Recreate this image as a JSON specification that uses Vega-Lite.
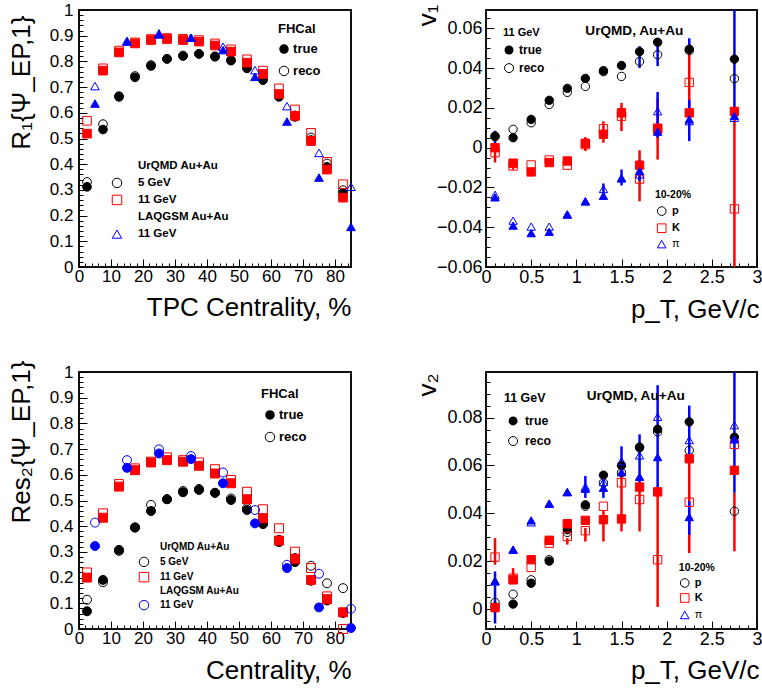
{
"$schema": "https://vega.github.io/schema/vega-lite/v6.json",
"autosize": {"type": "pad"},
"padding": {"left": 7, "top": 0, "right": 2, "bottom": 5},
"columns": 2,
"spacing": {"row": 105, "column": 135},
"bounds": "flush",
"resolve": {"scale": {"color": "independent", "shape": "independent", "fill": "independent", "fillOpacity": "independent", "stroke": "independent"}},
"config": {
  "font": "Liberation Sans",
  "view": {"stroke": "#111111", "strokeWidth": 2},
  "axis": {"grid": false, "domain": false, "labelFont": "Liberation Sans", "labelColor": "black", "tickColor": "black", "tickWidth": 1, "titleFont": "Liberation Sans", "titleFontSize": 26, "titleFontWeight": "normal", "titleColor": "black", "labelOverlap": false, "labelFlush": false, "labelBound": false},
  "text": {"font": "Liberation Sans", "fontWeight": "bold", "color": "black", "align": "left", "baseline": "middle"}
},
"datasets": {
"tl": [
{"c":2.5,"R":0.312,"m":"5 GeV","k":"true"},{"c":7.5,"R":0.535,"m":"5 GeV","k":"true"},{"c":12.5,"R":0.662,"m":"5 GeV","k":"true"},{"c":17.5,"R":0.738,"m":"5 GeV","k":"true"},{"c":22.5,"R":0.782,"m":"5 GeV","k":"true"},{"c":27.5,"R":0.81,"m":"5 GeV","k":"true"},{"c":32.5,"R":0.821,"m":"5 GeV","k":"true"},{"c":37.5,"R":0.829,"m":"5 GeV","k":"true"},{"c":42.5,"R":0.818,"m":"5 GeV","k":"true"},{"c":47.5,"R":0.803,"m":"5 GeV","k":"true"},{"c":52.5,"R":0.773,"m":"5 GeV","k":"true"},{"c":57.5,"R":0.727,"m":"5 GeV","k":"true"},{"c":62.5,"R":0.662,"m":"5 GeV","k":"true"},{"c":67.5,"R":0.584,"m":"5 GeV","k":"true"},{"c":72.5,"R":0.494,"m":"5 GeV","k":"true"},{"c":77.5,"R":0.39,"m":"5 GeV","k":"true"},{"c":82.5,"R":0.288,"m":"5 GeV","k":"true"},
{"c":2.5,"R":0.331,"m":"5 GeV","k":"reco"},{"c":7.5,"R":0.556,"m":"5 GeV","k":"reco"},{"c":12.5,"R":0.665,"m":"5 GeV","k":"reco"},{"c":17.5,"R":0.743,"m":"5 GeV","k":"reco"},{"c":22.5,"R":0.786,"m":"5 GeV","k":"reco"},{"c":27.5,"R":0.81,"m":"5 GeV","k":"reco"},{"c":32.5,"R":0.823,"m":"5 GeV","k":"reco"},{"c":37.5,"R":0.83,"m":"5 GeV","k":"reco"},{"c":42.5,"R":0.82,"m":"5 GeV","k":"reco"},{"c":47.5,"R":0.805,"m":"5 GeV","k":"reco"},{"c":52.5,"R":0.776,"m":"5 GeV","k":"reco"},{"c":57.5,"R":0.731,"m":"5 GeV","k":"reco"},{"c":62.5,"R":0.669,"m":"5 GeV","k":"reco"},{"c":67.5,"R":0.59,"m":"5 GeV","k":"reco"},{"c":72.5,"R":0.504,"m":"5 GeV","k":"reco"},{"c":77.5,"R":0.403,"m":"5 GeV","k":"reco"},{"c":82.5,"R":0.299,"m":"5 GeV","k":"reco"},
{"c":2.5,"R":0.519,"m":"11 GeV","k":"true"},{"c":7.5,"R":0.764,"m":"11 GeV","k":"true"},{"c":12.5,"R":0.835,"m":"11 GeV","k":"true"},{"c":17.5,"R":0.87,"m":"11 GeV","k":"true"},{"c":22.5,"R":0.883,"m":"11 GeV","k":"true"},{"c":27.5,"R":0.887,"m":"11 GeV","k":"true"},{"c":32.5,"R":0.883,"m":"11 GeV","k":"true"},{"c":37.5,"R":0.877,"m":"11 GeV","k":"true"},{"c":42.5,"R":0.862,"m":"11 GeV","k":"true"},{"c":47.5,"R":0.838,"m":"11 GeV","k":"true"},{"c":52.5,"R":0.795,"m":"11 GeV","k":"true"},{"c":57.5,"R":0.751,"m":"11 GeV","k":"true"},{"c":62.5,"R":0.673,"m":"11 GeV","k":"true"},{"c":67.5,"R":0.588,"m":"11 GeV","k":"true"},{"c":72.5,"R":0.49,"m":"11 GeV","k":"true"},{"c":77.5,"R":0.379,"m":"11 GeV","k":"true"},{"c":82.5,"R":0.27,"m":"11 GeV","k":"true"},
{"c":2.5,"R":0.569,"m":"11 GeV","k":"reco"},{"c":7.5,"R":0.773,"m":"11 GeV","k":"reco"},{"c":12.5,"R":0.842,"m":"11 GeV","k":"reco"},{"c":17.5,"R":0.874,"m":"11 GeV","k":"reco"},{"c":22.5,"R":0.887,"m":"11 GeV","k":"reco"},{"c":27.5,"R":0.891,"m":"11 GeV","k":"reco"},{"c":32.5,"R":0.888,"m":"11 GeV","k":"reco"},{"c":37.5,"R":0.883,"m":"11 GeV","k":"reco"},{"c":42.5,"R":0.87,"m":"11 GeV","k":"reco"},{"c":47.5,"R":0.847,"m":"11 GeV","k":"reco"},{"c":52.5,"R":0.808,"m":"11 GeV","k":"reco"},{"c":57.5,"R":0.764,"m":"11 GeV","k":"reco"},{"c":62.5,"R":0.695,"m":"11 GeV","k":"reco"},{"c":67.5,"R":0.613,"m":"11 GeV","k":"reco"},{"c":72.5,"R":0.522,"m":"11 GeV","k":"reco"},{"c":77.5,"R":0.409,"m":"11 GeV","k":"reco"},{"c":82.5,"R":0.322,"m":"11 GeV","k":"reco"},
{"c":5,"R":0.636,"m":"LAQGSM 11 GeV","k":"true"},{"c":15,"R":0.877,"m":"LAQGSM 11 GeV","k":"true"},{"c":25,"R":0.905,"m":"LAQGSM 11 GeV","k":"true"},{"c":35,"R":0.892,"m":"LAQGSM 11 GeV","k":"true"},{"c":45,"R":0.844,"m":"LAQGSM 11 GeV","k":"true"},{"c":55,"R":0.74,"m":"LAQGSM 11 GeV","k":"true"},{"c":65,"R":0.566,"m":"LAQGSM 11 GeV","k":"true"},{"c":75,"R":0.348,"m":"LAQGSM 11 GeV","k":"true"},{"c":85,"R":0.156,"m":"LAQGSM 11 GeV","k":"true"},
{"c":5,"R":0.704,"m":"LAQGSM 11 GeV","k":"reco"},{"c":15,"R":0.88,"m":"LAQGSM 11 GeV","k":"reco"},{"c":25,"R":0.909,"m":"LAQGSM 11 GeV","k":"reco"},{"c":35,"R":0.892,"m":"LAQGSM 11 GeV","k":"reco"},{"c":45,"R":0.857,"m":"LAQGSM 11 GeV","k":"reco"},{"c":55,"R":0.766,"m":"LAQGSM 11 GeV","k":"reco"},{"c":65,"R":0.626,"m":"LAQGSM 11 GeV","k":"reco"},{"c":75,"R":0.444,"m":"LAQGSM 11 GeV","k":"reco"},{"c":85,"R":0.312,"m":"LAQGSM 11 GeV","k":"reco"}
],
"bl": [
{"c":2.5,"R":0.069,"m":"5 GeV","k":"true"},{"c":7.5,"R":0.191,"m":"5 GeV","k":"true"},{"c":12.5,"R":0.308,"m":"5 GeV","k":"true"},{"c":17.5,"R":0.395,"m":"5 GeV","k":"true"},{"c":22.5,"R":0.459,"m":"5 GeV","k":"true"},{"c":27.5,"R":0.505,"m":"5 GeV","k":"true"},{"c":32.5,"R":0.532,"m":"5 GeV","k":"true"},{"c":37.5,"R":0.541,"m":"5 GeV","k":"true"},{"c":42.5,"R":0.53,"m":"5 GeV","k":"true"},{"c":47.5,"R":0.502,"m":"5 GeV","k":"true"},{"c":52.5,"R":0.463,"m":"5 GeV","k":"true"},{"c":57.5,"R":0.408,"m":"5 GeV","k":"true"},{"c":62.5,"R":0.338,"m":"5 GeV","k":"true"},{"c":67.5,"R":0.26,"m":"5 GeV","k":"true"},{"c":72.5,"R":0.188,"m":"5 GeV","k":"true"},{"c":77.5,"R":0.111,"m":"5 GeV","k":"true"},{"c":82.5,"R":0.062,"m":"5 GeV","k":"true"},
{"c":2.5,"R":0.114,"m":"5 GeV","k":"reco"},{"c":7.5,"R":0.182,"m":"5 GeV","k":"reco"},{"c":12.5,"R":0.304,"m":"5 GeV","k":"reco"},{"c":17.5,"R":0.395,"m":"5 GeV","k":"reco"},{"c":22.5,"R":0.483,"m":"5 GeV","k":"reco"},{"c":27.5,"R":0.505,"m":"5 GeV","k":"reco"},{"c":32.5,"R":0.537,"m":"5 GeV","k":"reco"},{"c":37.5,"R":0.545,"m":"5 GeV","k":"reco"},{"c":42.5,"R":0.53,"m":"5 GeV","k":"reco"},{"c":47.5,"R":0.508,"m":"5 GeV","k":"reco"},{"c":52.5,"R":0.47,"m":"5 GeV","k":"reco"},{"c":57.5,"R":0.411,"m":"5 GeV","k":"reco"},{"c":62.5,"R":0.347,"m":"5 GeV","k":"reco"},{"c":67.5,"R":0.276,"m":"5 GeV","k":"reco"},{"c":72.5,"R":0.246,"m":"5 GeV","k":"reco"},{"c":77.5,"R":0.178,"m":"5 GeV","k":"reco"},{"c":82.5,"R":0.159,"m":"5 GeV","k":"reco"},
{"c":2.5,"R":0.2,"m":"11 GeV","k":"true"},{"c":7.5,"R":0.433,"m":"11 GeV","k":"true"},{"c":12.5,"R":0.554,"m":"11 GeV","k":"true"},{"c":17.5,"R":0.618,"m":"11 GeV","k":"true"},{"c":22.5,"R":0.648,"m":"11 GeV","k":"true"},{"c":27.5,"R":0.657,"m":"11 GeV","k":"true"},{"c":32.5,"R":0.651,"m":"11 GeV","k":"true"},{"c":37.5,"R":0.635,"m":"11 GeV","k":"true"},{"c":42.5,"R":0.605,"m":"11 GeV","k":"true"},{"c":47.5,"R":0.567,"m":"11 GeV","k":"true"},{"c":52.5,"R":0.505,"m":"11 GeV","k":"true"},{"c":57.5,"R":0.431,"m":"11 GeV","k":"true"},{"c":62.5,"R":0.344,"m":"11 GeV","k":"true"},{"c":67.5,"R":0.273,"m":"11 GeV","k":"true"},{"c":72.5,"R":0.191,"m":"11 GeV","k":"true"},{"c":77.5,"R":0.116,"m":"11 GeV","k":"true"},{"c":82.5,"R":0.065,"m":"11 GeV","k":"true"},
{"c":2.5,"R":0.22,"m":"11 GeV","k":"reco"},{"c":7.5,"R":0.45,"m":"11 GeV","k":"reco"},{"c":12.5,"R":0.564,"m":"11 GeV","k":"reco"},{"c":17.5,"R":0.625,"m":"11 GeV","k":"reco"},{"c":22.5,"R":0.651,"m":"11 GeV","k":"reco"},{"c":27.5,"R":0.668,"m":"11 GeV","k":"reco"},{"c":32.5,"R":0.657,"m":"11 GeV","k":"reco"},{"c":37.5,"R":0.648,"m":"11 GeV","k":"reco"},{"c":42.5,"R":0.622,"m":"11 GeV","k":"reco"},{"c":47.5,"R":0.58,"m":"11 GeV","k":"reco"},{"c":52.5,"R":0.534,"m":"11 GeV","k":"reco"},{"c":57.5,"R":0.466,"m":"11 GeV","k":"reco"},{"c":62.5,"R":0.392,"m":"11 GeV","k":"reco"},{"c":67.5,"R":0.301,"m":"11 GeV","k":"reco"},{"c":72.5,"R":0.237,"m":"11 GeV","k":"reco"},{"c":77.5,"R":0.127,"m":"11 GeV","k":"reco"},{"c":82.5,"R":0.0,"m":"11 GeV","k":"reco"},
{"c":5,"R":0.323,"m":"LAQGSM 11 GeV","k":"true"},{"c":15,"R":0.627,"m":"LAQGSM 11 GeV","k":"true"},{"c":25,"R":0.683,"m":"LAQGSM 11 GeV","k":"true"},{"c":35,"R":0.661,"m":"LAQGSM 11 GeV","k":"true"},{"c":45,"R":0.567,"m":"LAQGSM 11 GeV","k":"true"},{"c":55,"R":0.411,"m":"LAQGSM 11 GeV","k":"true"},{"c":65,"R":0.237,"m":"LAQGSM 11 GeV","k":"true"},{"c":75,"R":0.084,"m":"LAQGSM 11 GeV","k":"true"},{"c":85,"R":0.004,"m":"LAQGSM 11 GeV","k":"true"},
{"c":5,"R":0.414,"m":"LAQGSM 11 GeV","k":"reco"},{"c":15,"R":0.657,"m":"LAQGSM 11 GeV","k":"reco"},{"c":25,"R":0.699,"m":"LAQGSM 11 GeV","k":"reco"},{"c":35,"R":0.673,"m":"LAQGSM 11 GeV","k":"reco"},{"c":45,"R":0.609,"m":"LAQGSM 11 GeV","k":"reco"},{"c":55,"R":0.463,"m":"LAQGSM 11 GeV","k":"reco"},{"c":65,"R":0.25,"m":"LAQGSM 11 GeV","k":"reco"},{"c":75,"R":0.215,"m":"LAQGSM 11 GeV","k":"reco"},{"c":85,"R":0.079,"m":"LAQGSM 11 GeV","k":"reco"}
],
"tr": [
{"pt":0.1,"v":0.0058,"sp":"p","k":"true"},{"pt":0.3,"v":0.005,"sp":"p","k":"true"},{"pt":0.5,"v":0.0142,"sp":"p","k":"true"},{"pt":0.7,"v":0.0238,"sp":"p","k":"true"},{"pt":0.9,"v":0.0298,"sp":"p","k":"true"},{"pt":1.1,"v":0.0348,"sp":"p","k":"true"},{"pt":1.3,"v":0.0387,"sp":"p","k":"true"},{"pt":1.5,"v":0.0413,"sp":"p","k":"true"},{"pt":1.7,"v":0.0483,"sp":"p","k":"true"},{"pt":1.9,"v":0.053,"sp":"p","k":"true"},{"pt":2.25,"v":0.0495,"sp":"p","k":"true"},{"pt":2.75,"v":0.0445,"sp":"p","k":"true"},
{"pt":0.1,"v":0.0055,"sp":"p","k":"reco"},{"pt":0.3,"v":0.0092,"sp":"p","k":"reco"},{"pt":0.5,"v":0.0125,"sp":"p","k":"reco"},{"pt":0.7,"v":0.0217,"sp":"p","k":"reco"},{"pt":0.9,"v":0.0278,"sp":"p","k":"reco"},{"pt":1.1,"v":0.0308,"sp":"p","k":"reco"},{"pt":1.3,"v":0.0382,"sp":"p","k":"reco"},{"pt":1.5,"v":0.0358,"sp":"p","k":"reco"},{"pt":1.7,"v":0.0433,"sp":"p","k":"reco"},{"pt":1.9,"v":0.0467,"sp":"p","k":"reco"},{"pt":2.25,"v":0.0488,"sp":"p","k":"reco"},{"pt":2.75,"v":0.0347,"sp":"p","k":"reco"},
{"pt":0.1,"v":0.0,"sp":"K","k":"true"},{"pt":0.3,"v":-0.0078,"sp":"K","k":"true"},{"pt":0.5,"v":-0.0122,"sp":"K","k":"true"},{"pt":0.7,"v":-0.0075,"sp":"K","k":"true"},{"pt":0.9,"v":-0.0067,"sp":"K","k":"true"},{"pt":1.1,"v":0.0022,"sp":"K","k":"true"},{"pt":1.3,"v":0.0067,"sp":"K","k":"true"},{"pt":1.5,"v":0.0175,"sp":"K","k":"true"},{"pt":1.7,"v":-0.0088,"sp":"K","k":"true"},{"pt":1.9,"v":0.0098,"sp":"K","k":"true"},{"pt":2.25,"v":0.0175,"sp":"K","k":"true"},{"pt":2.75,"v":0.0182,"sp":"K","k":"true"},
{"pt":0.1,"v":-0.0025,"sp":"K","k":"reco"},{"pt":0.3,"v":-0.0092,"sp":"K","k":"reco"},{"pt":0.5,"v":-0.0087,"sp":"K","k":"reco"},{"pt":0.7,"v":-0.0062,"sp":"K","k":"reco"},{"pt":0.9,"v":-0.0088,"sp":"K","k":"reco"},{"pt":1.1,"v":0.0015,"sp":"K","k":"reco"},{"pt":1.3,"v":0.0095,"sp":"K","k":"reco"},{"pt":1.5,"v":0.0158,"sp":"K","k":"reco"},{"pt":1.7,"v":-0.0158,"sp":"K","k":"reco"},{"pt":1.9,"v":0.0092,"sp":"K","k":"reco"},{"pt":2.25,"v":0.0328,"sp":"K","k":"reco"},{"pt":2.75,"v":-0.0308,"sp":"K","k":"reco"},
{"pt":0.1,"v":-0.025,"sp":"π","k":"true"},{"pt":0.3,"v":-0.0392,"sp":"π","k":"true"},{"pt":0.5,"v":-0.043,"sp":"π","k":"true"},{"pt":0.7,"v":-0.0423,"sp":"π","k":"true"},{"pt":0.9,"v":-0.0337,"sp":"π","k":"true"},{"pt":1.1,"v":-0.027,"sp":"π","k":"true"},{"pt":1.3,"v":-0.0242,"sp":"π","k":"true"},{"pt":1.5,"v":-0.0153,"sp":"π","k":"true"},{"pt":1.7,"v":-0.0117,"sp":"π","k":"true"},{"pt":1.9,"v":0.008,"sp":"π","k":"true"},{"pt":2.25,"v":0.0142,"sp":"π","k":"true"},{"pt":2.75,"v":0.016,"sp":"π","k":"true"},
{"pt":0.1,"v":-0.0237,"sp":"π","k":"reco"},{"pt":0.3,"v":-0.0367,"sp":"π","k":"reco"},{"pt":0.5,"v":-0.0397,"sp":"π","k":"reco"},{"pt":0.7,"v":-0.0397,"sp":"π","k":"reco"},{"pt":0.9,"v":-0.0335,"sp":"π","k":"reco"},{"pt":1.1,"v":-0.027,"sp":"π","k":"reco"},{"pt":1.3,"v":-0.0208,"sp":"π","k":"reco"},{"pt":1.5,"v":-0.0155,"sp":"π","k":"reco"},{"pt":1.7,"v":-0.0135,"sp":"π","k":"reco"},{"pt":1.9,"v":0.0183,"sp":"π","k":"reco"},{"pt":2.25,"v":0.0133,"sp":"π","k":"reco"},{"pt":2.75,"v":0.015,"sp":"π","k":"reco"}
],
"tr_err": [
{"pt":0.1,"lo":-0.0075,"hi":0.0025,"sp":"K"},{"pt":0.1,"lo":-0.0017,"hi":0.0085,"sp":"p"},{"pt":0.3,"lo":-0.011,"hi":-0.006,"sp":"K"},{"pt":1.1,"lo":-0.0017,"hi":0.0053,"sp":"K"},{"pt":1.3,"lo":0.0025,"hi":0.0132,"sp":"K"},{"pt":1.3,"lo":-0.026,"hi":-0.018,"sp":"π"},{"pt":1.5,"lo":0.0083,"hi":0.0225,"sp":"K"},{"pt":1.5,"lo":-0.019,"hi":-0.011,"sp":"π"},{"pt":1.7,"lo":-0.027,"hi":-0.0013,"sp":"K"},{"pt":1.7,"lo":-0.0167,"hi":-0.0063,"sp":"π"},{"pt":1.7,"lo":0.04,"hi":0.051,"sp":"p"},{"pt":1.9,"lo":-0.006,"hi":0.025,"sp":"K"},{"pt":1.9,"lo":0.005,"hi":0.028,"sp":"π"},{"pt":1.9,"lo":0.041,"hi":0.055,"sp":"p"},{"pt":2.25,"lo":0.014,"hi":0.052,"sp":"K"},{"pt":2.25,"lo":0.0033,"hi":0.024,"sp":"π"},{"pt":2.25,"lo":0.05,"hi":0.055,"sp":"p"},{"pt":2.75,"lo":-0.08,"hi":0.0183,"sp":"K"},{"pt":2.75,"lo":0.0183,"hi":0.08,"sp":"p"}
],
"br": [
{"pt":0.1,"v":0.001,"sp":"p","k":"true"},{"pt":0.3,"v":0.0022,"sp":"p","k":"true"},{"pt":0.5,"v":0.0109,"sp":"p","k":"true"},{"pt":0.7,"v":0.0201,"sp":"p","k":"true"},{"pt":0.9,"v":0.0332,"sp":"p","k":"true"},{"pt":1.1,"v":0.0436,"sp":"p","k":"true"},{"pt":1.3,"v":0.056,"sp":"p","k":"true"},{"pt":1.5,"v":0.06,"sp":"p","k":"true"},{"pt":1.7,"v":0.0677,"sp":"p","k":"true"},{"pt":1.9,"v":0.0751,"sp":"p","k":"true"},{"pt":2.25,"v":0.0782,"sp":"p","k":"true"},{"pt":2.75,"v":0.0718,"sp":"p","k":"true"},
{"pt":0.1,"v":0.0029,"sp":"p","k":"reco"},{"pt":0.3,"v":0.0063,"sp":"p","k":"reco"},{"pt":0.5,"v":0.0123,"sp":"p","k":"reco"},{"pt":0.7,"v":0.0207,"sp":"p","k":"reco"},{"pt":0.9,"v":0.0321,"sp":"p","k":"reco"},{"pt":1.1,"v":0.043,"sp":"p","k":"reco"},{"pt":1.3,"v":0.0528,"sp":"p","k":"reco"},{"pt":1.5,"v":0.057,"sp":"p","k":"reco"},{"pt":1.7,"v":0.0674,"sp":"p","k":"reco"},{"pt":1.9,"v":0.074,"sp":"p","k":"reco"},{"pt":2.25,"v":0.0663,"sp":"p","k":"reco"},{"pt":2.75,"v":0.0409,"sp":"p","k":"reco"},
{"pt":0.1,"v":0.0007,"sp":"K","k":"true"},{"pt":0.3,"v":0.0123,"sp":"K","k":"true"},{"pt":0.5,"v":0.0207,"sp":"K","k":"true"},{"pt":0.7,"v":0.0288,"sp":"K","k":"true"},{"pt":0.9,"v":0.0357,"sp":"K","k":"true"},{"pt":1.1,"v":0.0371,"sp":"K","k":"true"},{"pt":1.3,"v":0.0374,"sp":"K","k":"true"},{"pt":1.5,"v":0.0377,"sp":"K","k":"true"},{"pt":1.7,"v":0.051,"sp":"K","k":"true"},{"pt":1.9,"v":0.049,"sp":"K","k":"true"},{"pt":2.25,"v":0.0628,"sp":"K","k":"true"},{"pt":2.75,"v":0.058,"sp":"K","k":"true"},
{"pt":0.1,"v":0.0218,"sp":"K","k":"reco"},{"pt":0.3,"v":0.013,"sp":"K","k":"reco"},{"pt":0.5,"v":0.0175,"sp":"K","k":"reco"},{"pt":0.7,"v":0.0276,"sp":"K","k":"reco"},{"pt":0.9,"v":0.0304,"sp":"K","k":"reco"},{"pt":1.1,"v":0.0328,"sp":"K","k":"reco"},{"pt":1.3,"v":0.043,"sp":"K","k":"reco"},{"pt":1.5,"v":0.0528,"sp":"K","k":"reco"},{"pt":1.7,"v":0.0458,"sp":"K","k":"reco"},{"pt":1.9,"v":0.0207,"sp":"K","k":"reco"},{"pt":2.25,"v":0.0447,"sp":"K","k":"reco"},{"pt":2.75,"v":0.0688,"sp":"K","k":"reco"},
{"pt":0.1,"v":0.0119,"sp":"π","k":"true"},{"pt":0.3,"v":0.0249,"sp":"π","k":"true"},{"pt":0.5,"v":0.0371,"sp":"π","k":"true"},{"pt":0.7,"v":0.0441,"sp":"π","k":"true"},{"pt":0.9,"v":0.0489,"sp":"π","k":"true"},{"pt":1.1,"v":0.0503,"sp":"π","k":"true"},{"pt":1.3,"v":0.0507,"sp":"π","k":"true"},{"pt":1.5,"v":0.0572,"sp":"π","k":"true"},{"pt":1.7,"v":0.0553,"sp":"π","k":"true"},{"pt":1.9,"v":0.0635,"sp":"π","k":"true"},{"pt":2.25,"v":0.0385,"sp":"π","k":"true"},{"pt":2.75,"v":0.0709,"sp":"π","k":"true"},
{"pt":0.1,"v":0.0116,"sp":"π","k":"reco"},{"pt":0.3,"v":0.0249,"sp":"π","k":"reco"},{"pt":0.5,"v":0.0363,"sp":"π","k":"reco"},{"pt":0.7,"v":0.0441,"sp":"π","k":"reco"},{"pt":0.9,"v":0.0489,"sp":"π","k":"reco"},{"pt":1.1,"v":0.0511,"sp":"π","k":"reco"},{"pt":1.3,"v":0.0531,"sp":"π","k":"reco"},{"pt":1.5,"v":0.0618,"sp":"π","k":"reco"},{"pt":1.7,"v":0.0642,"sp":"π","k":"reco"},{"pt":1.9,"v":0.0803,"sp":"π","k":"reco"},{"pt":2.25,"v":0.0706,"sp":"π","k":"reco"},{"pt":2.75,"v":0.0768,"sp":"π","k":"reco"}
],
"br_err": [
{"pt":0.1,"lo":0.0186,"hi":0.0297,"sp":"K"},{"pt":0.1,"lo":-0.0059,"hi":0.0158,"sp":"π"},{"pt":0.3,"lo":0.0116,"hi":0.0172,"sp":"K"},{"pt":0.9,"lo":0.027,"hi":0.0297,"sp":"K"},{"pt":1.1,"lo":0.0283,"hi":0.034,"sp":"K"},{"pt":1.1,"lo":0.0465,"hi":0.0556,"sp":"π"},{"pt":1.3,"lo":0.0283,"hi":0.041,"sp":"K"},{"pt":1.3,"lo":0.0465,"hi":0.054,"sp":"π"},{"pt":1.5,"lo":0.0325,"hi":0.056,"sp":"K"},{"pt":1.5,"lo":0.056,"hi":0.068,"sp":"π"},{"pt":1.7,"lo":0.0325,"hi":0.052,"sp":"K"},{"pt":1.7,"lo":0.052,"hi":0.073,"sp":"π"},{"pt":1.9,"lo":0.001,"hi":0.0493,"sp":"K"},{"pt":1.9,"lo":0.0493,"hi":0.0935,"sp":"π"},{"pt":2.25,"lo":0.0235,"hi":0.0626,"sp":"K"},{"pt":2.25,"lo":0.0626,"hi":0.085,"sp":"π"},{"pt":2.25,"lo":0.0311,"hi":0.0451,"sp":"π"},{"pt":2.75,"lo":0.0242,"hi":0.0486,"sp":"K"},{"pt":2.75,"lo":0.0486,"hi":0.12,"sp":"π"}
]
},
"concat": [
{
 "width": 272, "height": 257,
 "resolve": {"axis": {"x": "independent", "y": "independent"}},
 "layer": [
  {
   "data": {"name": "tl"},
   "mark": {"type": "point", "filled": false, "opacity": 1, "strokeWidth": 1, "size": 75},
   "encoding": {
    "x": {"field": "c", "type": "quantitative", "scale": {"domain": [0, 85], "nice": false, "zero": false},
      "axis": {"title": "TPC Centrality, %", "labelOverlap": false, "values": [0,2,4,6,8,10,12,14,16,18,20,22,24,26,28,30,32,34,36,38,40,42,44,46,48,50,52,54,56,58,60,62,64,66,68,70,72,74,76,78,80,82,84], "labelExpr": "datum.value % 10 === 0 ? format(datum.value, '~g') : ''", "tickSize": {"condition": {"test": "datum.value % 10 === 0", "value": -8}, "value": -4}, "labelPadding": 9, "labelFontSize": 17, "titleAnchor": "end", "titleAlign": "right", "titleBaseline": "alphabetic", "titleX": 272, "titleY": 48}},
    "y": {"field": "R", "type": "quantitative", "scale": {"domain": [0, 1], "nice": false, "zero": false},
      "axis": {"title": "R₁{Ψ_EP,1}", "labelOverlap": false, "values": [0,0.02,0.04,0.06,0.08,0.1,0.12,0.14,0.16,0.18,0.2,0.22,0.24,0.26,0.28,0.3,0.32,0.34,0.36,0.38,0.4,0.42,0.44,0.46,0.48,0.5,0.52,0.54,0.56,0.58,0.6,0.62,0.64,0.66,0.68,0.7,0.72,0.74,0.76,0.78,0.8,0.82,0.84,0.86,0.88,0.9,0.92,0.94,0.96,0.98,1], "labelExpr": "abs(datum.value*10 - round(datum.value*10)) < 1e-6 ? format(datum.value, '~g') : ''", "tickSize": {"condition": {"test": "abs(datum.value*10 - round(datum.value*10)) < 1e-6", "value": -8}, "value": -4}, "labelPadding": 14, "labelFontSize": 17, "titleAngle": 270, "titleAnchor": "end", "titleAlign": "right", "titleBaseline": "alphabetic", "titleX": -50, "titleY": 5}},
    "shape": {"field": "m", "type": "nominal", "scale": {"domain": ["5 GeV", "11 GeV", "LAQGSM 11 GeV"], "range": ["circle", "square", "triangle-up"]}, "legend": null},
    "color": {"field": "m", "type": "nominal", "scale": {"domain": ["5 GeV", "11 GeV", "LAQGSM 11 GeV"], "range": ["#000000", "#ff0000", "#0000ff"]}, "legend": null},
    "fill": {"field": "m", "type": "nominal", "scale": {"domain": ["5 GeV", "11 GeV", "LAQGSM 11 GeV"], "range": ["#000000", "#ff0000", "#0000ff"]}, "legend": null},
    "fillOpacity": {"field": "k", "type": "nominal", "scale": {"domain": ["true", "reco"], "range": [1, 0]}, "legend": null}
   }
  },
  {"data": {"values": [{}]}, "mark": {"type": "text", "text": "UrQMD Au+Au", "fontSize": 11.5}, "encoding": {"x": {"datum": 18.44, "type": "quantitative", "axis": null}, "y": {"datum": 0.393, "type": "quantitative", "axis": null}}},
  {"data": {"values": [{}]}, "mark": {"type": "text", "text": "5 GeV", "fontSize": 11.5}, "encoding": {"x": {"datum": 18.44, "type": "quantitative", "axis": null}, "y": {"datum": 0.327, "type": "quantitative", "axis": null}}},
  {"data": {"values": [{}]}, "mark": {"type": "text", "text": "11 GeV", "fontSize": 11.5}, "encoding": {"x": {"datum": 18.44, "type": "quantitative", "axis": null}, "y": {"datum": 0.261, "type": "quantitative", "axis": null}}},
  {"data": {"values": [{}]}, "mark": {"type": "text", "text": "LAQGSM Au+Au", "fontSize": 11.5}, "encoding": {"x": {"datum": 18.44, "type": "quantitative", "axis": null}, "y": {"datum": 0.195, "type": "quantitative", "axis": null}}},
  {"data": {"values": [{}]}, "mark": {"type": "text", "text": "11 GeV", "fontSize": 11.5}, "encoding": {"x": {"datum": 18.44, "type": "quantitative", "axis": null}, "y": {"datum": 0.128, "type": "quantitative", "axis": null}}},
  {"data": {"values": [{}]}, "mark": {"type": "point", "shape": "circle", "size": 90, "filled": false, "strokeWidth": 1, "color": "#000000", "opacity": 1}, "encoding": {"x": {"datum": 11.875, "type": "quantitative", "axis": null}, "y": {"datum": 0.327, "type": "quantitative", "axis": null}}},
  {"data": {"values": [{}]}, "mark": {"type": "point", "shape": "square", "size": 90, "filled": false, "strokeWidth": 1, "color": "#ff0000", "opacity": 1}, "encoding": {"x": {"datum": 11.875, "type": "quantitative", "axis": null}, "y": {"datum": 0.261, "type": "quantitative", "axis": null}}},
  {"data": {"values": [{}]}, "mark": {"type": "point", "shape": "triangle-up", "size": 90, "filled": false, "strokeWidth": 1, "color": "#0000ff", "opacity": 1}, "encoding": {"x": {"datum": 11.875, "type": "quantitative", "axis": null}, "y": {"datum": 0.128, "type": "quantitative", "axis": null}}},
  {"data": {"values": [{}]}, "mark": {"type": "text", "text": "FHCal", "fontSize": 13}, "encoding": {"x": {"datum": 62.2, "type": "quantitative", "axis": null}, "y": {"datum": 0.926, "type": "quantitative", "axis": null}}},
  {"data": {"values": [{}]}, "mark": {"type": "point", "shape": "circle", "size": 90, "filled": true, "color": "#000000", "opacity": 1}, "encoding": {"x": {"datum": 64.06, "type": "quantitative", "axis": null}, "y": {"datum": 0.848, "type": "quantitative", "axis": null}}},
  {"data": {"values": [{}]}, "mark": {"type": "text", "text": "true", "fontSize": 13}, "encoding": {"x": {"datum": 66.9, "type": "quantitative", "axis": null}, "y": {"datum": 0.848, "type": "quantitative", "axis": null}}},
  {"data": {"values": [{}]}, "mark": {"type": "point", "shape": "circle", "size": 90, "filled": false, "strokeWidth": 1, "color": "#000000", "opacity": 1}, "encoding": {"x": {"datum": 64.06, "type": "quantitative", "axis": null}, "y": {"datum": 0.763, "type": "quantitative", "axis": null}}},
  {"data": {"values": [{}]}, "mark": {"type": "text", "text": "reco", "fontSize": 13}, "encoding": {"x": {"datum": 66.9, "type": "quantitative", "axis": null}, "y": {"datum": 0.763, "type": "quantitative", "axis": null}}}
 ]
},
{
 "width": 271, "height": 257,
 "resolve": {"axis": {"x": "independent", "y": "independent"}},
 "layer": [
  {
   "data": {"name": "tr_err"},
   "mark": {"type": "rule", "strokeWidth": 2.5, "clip": true},
   "encoding": {
    "x": {"field": "pt", "type": "quantitative", "scale": {"domain": [0, 3], "nice": false, "zero": false}, "axis": null},
    "y": {"field": "lo", "type": "quantitative", "scale": {"domain": [-0.06, 0.0692], "nice": false, "zero": false}, "axis": null},
    "y2": {"field": "hi"},
    "stroke": {"field": "sp", "type": "nominal", "scale": {"domain": ["p", "K", "π"], "range": ["#0000ee", "#ff0000", "#0000ff"]}, "legend": null}
   }
  },
  {
   "data": {"name": "tr"},
   "mark": {"type": "point", "filled": false, "opacity": 1, "strokeWidth": 1, "size": 70},
   "encoding": {
    "x": {"field": "pt", "type": "quantitative", "scale": {"domain": [0, 3], "nice": false, "zero": false},
      "axis": {"title": "p_T, GeV/c", "labelOverlap": false, "values": [0,0.1,0.2,0.3,0.4,0.5,0.6,0.7,0.8,0.9,1,1.1,1.2,1.3,1.4,1.5,1.6,1.7,1.8,1.9,2,2.1,2.2,2.3,2.4,2.5,2.6,2.7,2.8,2.9,3], "labelExpr": "abs(datum.value*2 - round(datum.value*2)) < 1e-6 ? format(datum.value, '~g') : ''", "tickSize": {"condition": {"test": "abs(datum.value*2 - round(datum.value*2)) < 1e-6", "value": -8}, "value": -4}, "labelPadding": 9, "labelFontSize": 18, "titleAnchor": "end", "titleAlign": "right", "titleBaseline": "alphabetic", "titleX": 273, "titleY": 50}},
    "y": {"field": "v", "type": "quantitative", "scale": {"domain": [-0.06, 0.0692], "nice": false, "zero": false},
      "axis": {"title": "v₁", "labelOverlap": false, "values": [-0.06,-0.055,-0.05,-0.045,-0.04,-0.035,-0.03,-0.025,-0.02,-0.015,-0.01,-0.005,0,0.005,0.01,0.015,0.02,0.025,0.03,0.035,0.04,0.045,0.05,0.055,0.06,0.065], "labelExpr": "abs(datum.value*50 - round(datum.value*50)) < 1e-6 ? format(datum.value, '~g') : ''", "tickSize": {"condition": {"test": "abs(datum.value*50 - round(datum.value*50)) < 1e-6", "value": -8}, "value": -4}, "labelPadding": 12, "labelFontSize": 18, "titleAngle": 270, "titleAnchor": "end", "titleAlign": "right", "titleBaseline": "alphabetic", "titleX": -51, "titleY": -6}},
    "shape": {"field": "sp", "type": "nominal", "scale": {"domain": ["p", "K", "π"], "range": ["circle", "square", "triangle-up"]}, "legend": null},
    "color": {"field": "sp", "type": "nominal", "scale": {"domain": ["p", "K", "π"], "range": ["#000000", "#ff0000", "#0000ff"]}, "legend": null},
    "fill": {"field": "sp", "type": "nominal", "scale": {"domain": ["p", "K", "π"], "range": ["#000000", "#ff0000", "#0000ff"]}, "legend": null},
    "fillOpacity": {"field": "k", "type": "nominal", "scale": {"domain": ["true", "reco"], "range": [1, 0]}, "legend": null}
   }
  },
  {"data": {"values": [{}]}, "mark": {"type": "text", "text": "UrQMD, Au+Au", "fontSize": 13.6}, "encoding": {"x": {"datum": 1.1, "type": "quantitative", "axis": null}, "y": {"datum": 0.0585, "type": "quantitative", "axis": null}}},
  {"data": {"values": [{}]}, "mark": {"type": "text", "text": "11 GeV", "fontSize": 11}, "encoding": {"x": {"datum": 0.188, "type": "quantitative", "axis": null}, "y": {"datum": 0.0576, "type": "quantitative", "axis": null}}},
  {"data": {"values": [{}]}, "mark": {"type": "point", "shape": "circle", "size": 80, "filled": true, "color": "#000000", "opacity": 1}, "encoding": {"x": {"datum": 0.255, "type": "quantitative", "axis": null}, "y": {"datum": 0.0491, "type": "quantitative", "axis": null}}},
  {"data": {"values": [{}]}, "mark": {"type": "text", "text": "true", "fontSize": 12}, "encoding": {"x": {"datum": 0.365, "type": "quantitative", "axis": null}, "y": {"datum": 0.0491, "type": "quantitative", "axis": null}}},
  {"data": {"values": [{}]}, "mark": {"type": "point", "shape": "circle", "size": 80, "filled": false, "strokeWidth": 1, "color": "#000000", "opacity": 1}, "encoding": {"x": {"datum": 0.255, "type": "quantitative", "axis": null}, "y": {"datum": 0.04, "type": "quantitative", "axis": null}}},
  {"data": {"values": [{}]}, "mark": {"type": "text", "text": "reco", "fontSize": 12}, "encoding": {"x": {"datum": 0.365, "type": "quantitative", "axis": null}, "y": {"datum": 0.04, "type": "quantitative", "axis": null}}},
  {"data": {"values": [{}]}, "mark": {"type": "text", "text": "10-20%", "fontSize": 10.5}, "encoding": {"x": {"datum": 1.87, "type": "quantitative", "axis": null}, "y": {"datum": -0.0236, "type": "quantitative", "axis": null}}},
  {"data": {"values": [{}]}, "mark": {"type": "point", "shape": "circle", "size": 75, "filled": false, "strokeWidth": 1, "color": "#000000", "opacity": 1}, "encoding": {"x": {"datum": 1.945, "type": "quantitative", "axis": null}, "y": {"datum": -0.0319, "type": "quantitative", "axis": null}}},
  {"data": {"values": [{}]}, "mark": {"type": "text", "text": "p", "fontSize": 11}, "encoding": {"x": {"datum": 2.06, "type": "quantitative", "axis": null}, "y": {"datum": -0.0319, "type": "quantitative", "axis": null}}},
  {"data": {"values": [{}]}, "mark": {"type": "point", "shape": "square", "size": 75, "filled": false, "strokeWidth": 1, "color": "#ff0000", "opacity": 1}, "encoding": {"x": {"datum": 1.945, "type": "quantitative", "axis": null}, "y": {"datum": -0.0405, "type": "quantitative", "axis": null}}},
  {"data": {"values": [{}]}, "mark": {"type": "text", "text": "K", "fontSize": 11}, "encoding": {"x": {"datum": 2.06, "type": "quantitative", "axis": null}, "y": {"datum": -0.0405, "type": "quantitative", "axis": null}}},
  {"data": {"values": [{}]}, "mark": {"type": "point", "shape": "triangle-up", "size": 75, "filled": false, "strokeWidth": 1, "color": "#0000ff", "opacity": 1}, "encoding": {"x": {"datum": 1.945, "type": "quantitative", "axis": null}, "y": {"datum": -0.0485, "type": "quantitative", "axis": null}}},
  {"data": {"values": [{}]}, "mark": {"type": "text", "text": "π", "fontSize": 11, "fontWeight": "normal"}, "encoding": {"x": {"datum": 2.06, "type": "quantitative", "axis": null}, "y": {"datum": -0.0485, "type": "quantitative", "axis": null}}}
 ]
},
{
 "width": 272, "height": 257,
 "resolve": {"axis": {"x": "independent", "y": "independent"}},
 "layer": [
  {
   "data": {"name": "bl"},
   "mark": {"type": "point", "filled": false, "opacity": 1, "strokeWidth": 1, "size": 80},
   "encoding": {
    "x": {"field": "c", "type": "quantitative", "scale": {"domain": [0, 85], "nice": false, "zero": false},
      "axis": {"title": "Centrality, %", "labelOverlap": false, "values": [0,2,4,6,8,10,12,14,16,18,20,22,24,26,28,30,32,34,36,38,40,42,44,46,48,50,52,54,56,58,60,62,64,66,68,70,72,74,76,78,80,82,84], "labelExpr": "datum.value % 10 === 0 ? format(datum.value, '~g') : ''", "tickSize": {"condition": {"test": "datum.value % 10 === 0", "value": -8}, "value": -4}, "labelPadding": 9, "labelFontSize": 17, "titleAnchor": "end", "titleAlign": "right", "titleBaseline": "alphabetic", "titleX": 272, "titleY": 49}},
    "y": {"field": "R", "type": "quantitative", "scale": {"domain": [0, 1], "nice": false, "zero": false},
      "axis": {"title": "Res₂{Ψ_EP,1}", "labelOverlap": false, "values": [0,0.02,0.04,0.06,0.08,0.1,0.12,0.14,0.16,0.18,0.2,0.22,0.24,0.26,0.28,0.3,0.32,0.34,0.36,0.38,0.4,0.42,0.44,0.46,0.48,0.5,0.52,0.54,0.56,0.58,0.6,0.62,0.64,0.66,0.68,0.7,0.72,0.74,0.76,0.78,0.8,0.82,0.84,0.86,0.88,0.9,0.92,0.94,0.96,0.98,1], "labelExpr": "abs(datum.value*10 - round(datum.value*10)) < 1e-6 ? format(datum.value, '~g') : ''", "tickSize": {"condition": {"test": "abs(datum.value*10 - round(datum.value*10)) < 1e-6", "value": -8}, "value": -4}, "labelPadding": 14, "labelFontSize": 17, "titleAngle": 270, "titleAnchor": "end", "titleAlign": "right", "titleBaseline": "alphabetic", "titleX": -50, "titleY": -12}},
    "shape": {"field": "m", "type": "nominal", "scale": {"domain": ["5 GeV", "11 GeV", "LAQGSM 11 GeV"], "range": ["circle", "square", "circle"]}, "legend": null},
    "color": {"field": "m", "type": "nominal", "scale": {"domain": ["5 GeV", "11 GeV", "LAQGSM 11 GeV"], "range": ["#000000", "#ff0000", "#0000ff"]}, "legend": null},
    "fill": {"field": "m", "type": "nominal", "scale": {"domain": ["5 GeV", "11 GeV", "LAQGSM 11 GeV"], "range": ["#000000", "#ff0000", "#0000ff"]}, "legend": null},
    "fillOpacity": {"field": "k", "type": "nominal", "scale": {"domain": ["true", "reco"], "range": [1, 0]}, "legend": null}
   }
  },
  {"data": {"values": [{}]}, "mark": {"type": "text", "text": "UrQMD Au+Au", "fontSize": 10}, "encoding": {"x": {"datum": 25.31, "type": "quantitative", "axis": null}, "y": {"datum": 0.319, "type": "quantitative", "axis": null}}},
  {"data": {"values": [{}]}, "mark": {"type": "text", "text": "5 GeV", "fontSize": 10}, "encoding": {"x": {"datum": 25.31, "type": "quantitative", "axis": null}, "y": {"datum": 0.261, "type": "quantitative", "axis": null}}},
  {"data": {"values": [{}]}, "mark": {"type": "text", "text": "11 GeV", "fontSize": 10}, "encoding": {"x": {"datum": 25.31, "type": "quantitative", "axis": null}, "y": {"datum": 0.202, "type": "quantitative", "axis": null}}},
  {"data": {"values": [{}]}, "mark": {"type": "text", "text": "LAQGSM Au+Au", "fontSize": 10}, "encoding": {"x": {"datum": 25.31, "type": "quantitative", "axis": null}, "y": {"datum": 0.148, "type": "quantitative", "axis": null}}},
  {"data": {"values": [{}]}, "mark": {"type": "text", "text": "11 GeV", "fontSize": 10}, "encoding": {"x": {"datum": 25.31, "type": "quantitative", "axis": null}, "y": {"datum": 0.093, "type": "quantitative", "axis": null}}},
  {"data": {"values": [{}]}, "mark": {"type": "point", "shape": "circle", "size": 90, "filled": false, "strokeWidth": 1, "color": "#000000", "opacity": 1}, "encoding": {"x": {"datum": 20.31, "type": "quantitative", "axis": null}, "y": {"datum": 0.261, "type": "quantitative", "axis": null}}},
  {"data": {"values": [{}]}, "mark": {"type": "point", "shape": "square", "size": 90, "filled": false, "strokeWidth": 1, "color": "#ff0000", "opacity": 1}, "encoding": {"x": {"datum": 20.31, "type": "quantitative", "axis": null}, "y": {"datum": 0.202, "type": "quantitative", "axis": null}}},
  {"data": {"values": [{}]}, "mark": {"type": "point", "shape": "circle", "size": 90, "filled": false, "strokeWidth": 1, "color": "#0000ff", "opacity": 1}, "encoding": {"x": {"datum": 20.31, "type": "quantitative", "axis": null}, "y": {"datum": 0.093, "type": "quantitative", "axis": null}}},
  {"data": {"values": [{}]}, "mark": {"type": "text", "text": "FHCal", "fontSize": 13}, "encoding": {"x": {"datum": 56.88, "type": "quantitative", "axis": null}, "y": {"datum": 0.914, "type": "quantitative", "axis": null}}},
  {"data": {"values": [{}]}, "mark": {"type": "point", "shape": "circle", "size": 90, "filled": true, "color": "#000000", "opacity": 1}, "encoding": {"x": {"datum": 59.69, "type": "quantitative", "axis": null}, "y": {"datum": 0.833, "type": "quantitative", "axis": null}}},
  {"data": {"values": [{}]}, "mark": {"type": "text", "text": "true", "fontSize": 13}, "encoding": {"x": {"datum": 62.5, "type": "quantitative", "axis": null}, "y": {"datum": 0.833, "type": "quantitative", "axis": null}}},
  {"data": {"values": [{}]}, "mark": {"type": "point", "shape": "circle", "size": 90, "filled": false, "strokeWidth": 1, "color": "#000000", "opacity": 1}, "encoding": {"x": {"datum": 59.69, "type": "quantitative", "axis": null}, "y": {"datum": 0.747, "type": "quantitative", "axis": null}}},
  {"data": {"values": [{}]}, "mark": {"type": "text", "text": "reco", "fontSize": 13}, "encoding": {"x": {"datum": 62.5, "type": "quantitative", "axis": null}, "y": {"datum": 0.747, "type": "quantitative", "axis": null}}}
 ]
},
{
 "width": 271, "height": 257,
 "resolve": {"axis": {"x": "independent", "y": "independent"}},
 "layer": [
  {
   "data": {"name": "br_err"},
   "mark": {"type": "rule", "strokeWidth": 2.5, "clip": true},
   "encoding": {
    "x": {"field": "pt", "type": "quantitative", "scale": {"domain": [0, 3], "nice": false, "zero": false}, "axis": null},
    "y": {"field": "lo", "type": "quantitative", "scale": {"domain": [-0.0082, 0.099], "nice": false, "zero": false}, "axis": null},
    "y2": {"field": "hi"},
    "stroke": {"field": "sp", "type": "nominal", "scale": {"domain": ["p", "K", "π"], "range": ["#0000ee", "#ff0000", "#0000ff"]}, "legend": null}
   }
  },
  {
   "data": {"name": "br"},
   "mark": {"type": "point", "filled": false, "opacity": 1, "strokeWidth": 1, "size": 70},
   "encoding": {
    "x": {"field": "pt", "type": "quantitative", "scale": {"domain": [0, 3], "nice": false, "zero": false},
      "axis": {"title": "p_T, GeV/c", "labelOverlap": false, "values": [0,0.1,0.2,0.3,0.4,0.5,0.6,0.7,0.8,0.9,1,1.1,1.2,1.3,1.4,1.5,1.6,1.7,1.8,1.9,2,2.1,2.2,2.3,2.4,2.5,2.6,2.7,2.8,2.9,3], "labelExpr": "abs(datum.value*2 - round(datum.value*2)) < 1e-6 ? format(datum.value, '~g') : ''", "tickSize": {"condition": {"test": "abs(datum.value*2 - round(datum.value*2)) < 1e-6", "value": -8}, "value": -4}, "labelPadding": 9, "labelFontSize": 18, "titleAnchor": "end", "titleAlign": "right", "titleBaseline": "alphabetic", "titleX": 273, "titleY": 49}},
    "y": {"field": "v", "type": "quantitative", "scale": {"domain": [-0.0082, 0.099], "nice": false, "zero": false},
      "axis": {"title": "v₂", "labelOverlap": false, "values": [-0.005,0,0.005,0.01,0.015,0.02,0.025,0.03,0.035,0.04,0.045,0.05,0.055,0.06,0.065,0.07,0.075,0.08,0.085,0.09,0.095], "labelExpr": "abs(datum.value*50 - round(datum.value*50)) < 1e-6 ? format(datum.value, '~g') : ''", "tickSize": {"condition": {"test": "abs(datum.value*50 - round(datum.value*50)) < 1e-6", "value": -8}, "value": -4}, "labelPadding": 12, "labelFontSize": 18, "titleAngle": 270, "titleAnchor": "end", "titleAlign": "right", "titleBaseline": "alphabetic", "titleX": -51, "titleY": 1}},
    "shape": {"field": "sp", "type": "nominal", "scale": {"domain": ["p", "K", "π"], "range": ["circle", "square", "triangle-up"]}, "legend": null},
    "color": {"field": "sp", "type": "nominal", "scale": {"domain": ["p", "K", "π"], "range": ["#000000", "#ff0000", "#0000ff"]}, "legend": null},
    "fill": {"field": "sp", "type": "nominal", "scale": {"domain": ["p", "K", "π"], "range": ["#000000", "#ff0000", "#0000ff"]}, "legend": null},
    "fillOpacity": {"field": "k", "type": "nominal", "scale": {"domain": ["true", "reco"], "range": [1, 0]}, "legend": null}
   }
  },
  {"data": {"values": [{}]}, "mark": {"type": "text", "text": "UrQMD, Au+Au", "fontSize": 13.6}, "encoding": {"x": {"datum": 1.115, "type": "quantitative", "axis": null}, "y": {"datum": 0.0889, "type": "quantitative", "axis": null}}},
  {"data": {"values": [{}]}, "mark": {"type": "text", "text": "11 GeV", "fontSize": 12.4}, "encoding": {"x": {"datum": 0.2, "type": "quantitative", "axis": null}, "y": {"datum": 0.0882, "type": "quantitative", "axis": null}}},
  {"data": {"values": [{}]}, "mark": {"type": "point", "shape": "circle", "size": 80, "filled": true, "color": "#000000", "opacity": 1}, "encoding": {"x": {"datum": 0.3, "type": "quantitative", "axis": null}, "y": {"datum": 0.0786, "type": "quantitative", "axis": null}}},
  {"data": {"values": [{}]}, "mark": {"type": "text", "text": "true", "fontSize": 12.3}, "encoding": {"x": {"datum": 0.432, "type": "quantitative", "axis": null}, "y": {"datum": 0.0786, "type": "quantitative", "axis": null}}},
  {"data": {"values": [{}]}, "mark": {"type": "point", "shape": "circle", "size": 80, "filled": false, "strokeWidth": 1, "color": "#000000", "opacity": 1}, "encoding": {"x": {"datum": 0.3, "type": "quantitative", "axis": null}, "y": {"datum": 0.0702, "type": "quantitative", "axis": null}}},
  {"data": {"values": [{}]}, "mark": {"type": "text", "text": "reco", "fontSize": 12.3}, "encoding": {"x": {"datum": 0.432, "type": "quantitative", "axis": null}, "y": {"datum": 0.0702, "type": "quantitative", "axis": null}}},
  {"data": {"values": [{}]}, "mark": {"type": "text", "text": "10-20%", "fontSize": 10.4}, "encoding": {"x": {"datum": 2.135, "type": "quantitative", "axis": null}, "y": {"datum": 0.0172, "type": "quantitative", "axis": null}}},
  {"data": {"values": [{}]}, "mark": {"type": "point", "shape": "circle", "size": 75, "filled": false, "strokeWidth": 1, "color": "#000000", "opacity": 1}, "encoding": {"x": {"datum": 2.2, "type": "quantitative", "axis": null}, "y": {"datum": 0.011, "type": "quantitative", "axis": null}}},
  {"data": {"values": [{}]}, "mark": {"type": "text", "text": "p", "fontSize": 11}, "encoding": {"x": {"datum": 2.31, "type": "quantitative", "axis": null}, "y": {"datum": 0.011, "type": "quantitative", "axis": null}}},
  {"data": {"values": [{}]}, "mark": {"type": "point", "shape": "square", "size": 75, "filled": false, "strokeWidth": 1, "color": "#ff0000", "opacity": 1}, "encoding": {"x": {"datum": 2.2, "type": "quantitative", "axis": null}, "y": {"datum": 0.00474, "type": "quantitative", "axis": null}}},
  {"data": {"values": [{}]}, "mark": {"type": "text", "text": "K", "fontSize": 11}, "encoding": {"x": {"datum": 2.31, "type": "quantitative", "axis": null}, "y": {"datum": 0.00474, "type": "quantitative", "axis": null}}},
  {"data": {"values": [{}]}, "mark": {"type": "point", "shape": "triangle-up", "size": 75, "filled": false, "strokeWidth": 1, "color": "#0000ff", "opacity": 1}, "encoding": {"x": {"datum": 2.2, "type": "quantitative", "axis": null}, "y": {"datum": -0.00235, "type": "quantitative", "axis": null}}},
  {"data": {"values": [{}]}, "mark": {"type": "text", "text": "π", "fontSize": 11, "fontWeight": "normal"}, "encoding": {"x": {"datum": 2.31, "type": "quantitative", "axis": null}, "y": {"datum": -0.00235, "type": "quantitative", "axis": null}}}
 ]
}
]
}
